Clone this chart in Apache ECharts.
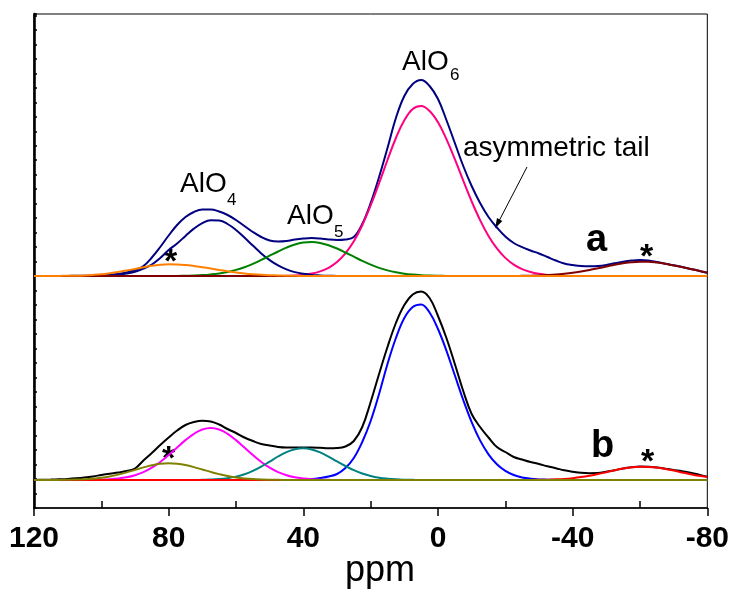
<!DOCTYPE html>
<html>
<head>
<meta charset="utf-8">
<script src="https://cdn.jsdelivr.net/npm/echarts@6/dist/echarts.min.js"></script>
<style>
	html, body { margin: 0; padding: 0; background: #fff; }
	#chart { width: 732px; height: 590px; }
</style>
</head>
<body>
<div id="chart"></div>
<script>
	// chemical shift grid (ppm), 2.5 ppm steps from 120 down to -80
	var ppm = [120,117.5,115,112.5,110,107.5,105,102.5,100,97.5,
		95,92.5,90,87.5,85,82.5,80,77.5,75,72.5,
		70,67.5,65,62.5,60,57.5,55,52.5,50,47.5,
		45,42.5,40,37.5,35,32.5,30,27.5,25,22.5,
		20,17.5,15,12.5,10,7.5,5,2.5,0,-2.5,
		-5,-7.5,-10,-12.5,-15,-17.5,-20,-22.5,-25,-27.5,
		-30,-32.5,-35,-37.5,-40,-42.5,-45,-47.5,-50,-52.5,
		-55,-57.5,-60,-62.5,-65,-67.5,-70,-72.5,-75,-77.5,
		-80];

	// spectrum a
	var aSum = [0,0,0,0,0.1,0.2,0.3,0.4,0.7,1.2,
		2,3.5,6,10,18.5,29,40.5,51,59,64,
		66.5,66.5,64.5,61,56,50,44,39,35.5,34.5,
		35,36.5,37.5,38,37.5,36.5,36,36.5,39,52,
		73,99,128,158,180,192,196,190,177,156,
		133,110,90,73,59,48.5,39.5,33,28.8,25.5,
		22.5,19,15.5,12.5,11,10,9.8,10,11,12.8,
		14.3,15.4,16,15.6,14,12.3,10.8,9,7.1,5.2,
		3.3];
	var aAlO4 = [0,0,0,0,0,0,0,0,0.3,0.65,
		1.3,2.4,4.3,7.3,11.5,18,26,32.5,40.1,47.4,
		52.9,55.7,55.4,52,46,38.4,30.4,22.6,15.9,10.6,
		6.6,3.9,2.2,1.1,0.6,0.3,0.1,0,0,0,
		0,0,0,0,0,0,0,0,0,0,
		0,0,0,0,0,0,0,0,0,0,
		0,0,0,0,0,0,0,0,0,0,
		0,0,0,0,0,0,0,0,0,0,
		0];
	var aAlO5 = [0,0,0,0,0,0,0,0,0,0,
		0,0,0,0,0,0,0,0,0.28,0.5,
		0.9,1.6,2.6,4.1,6.1,8.8,12.1,16.1,20.3,24.5,
		28.4,31.5,33.4,34,33.1,30.8,27.5,23.5,19.3,15.1,
		11.3,8.1,5.6,3.7,2.3,1.4,0.8,0.4,0.2,0.1,
		0,0,0,0,0,0,0,0,0,0,
		0,0,0,0,0,0,0,0,0,0,
		0,0,0,0,0,0,0,0,0,0,
		0];
	var aAlO6 = [0,0,0,0,0,0,0,0,0,0,
		0,0,0,0,0,0,0,0,0,0,
		0,0,0,0,0,0,0,0,0,0,
		0.2,0.5,1.2,2.4,4.6,8.2,14,22.6,34.7,50.8,
		70.5,92.8,116,138,155.7,167,170,165,153.7,136.9,
		116.8,95.4,74.6,55.9,40.1,27.6,18.1,11.4,6.9,4,
		2.2,1.1,0.5,0.2,0,0,0,0,0,0,
		0,0,0,0,0,0,0,0,0,0,
		0];
	var aSb80 = [0,0,0,0.1,0.17,0.33,0.6,1.06,1.7,2.7,
		3.9,5.4,7.1,8.75,10.2,11.2,11.7,11.6,11,10,
		8.8,7.5,6.1,4.8,3.6,2.6,1.8,1.2,0.8,0.5,
		0.3,0.15,0.1,0,0,0,0,0,0,0,
		0,0,0,0,0,0,0,0,0,0,
		0,0,0,0,0,0,0,0,0,0,
		0,0,0,0,0,0,0,0,0,0,
		0,0,0,0,0,0,0,0,0,0,
		0];
	var aSbM60 = [0,0,0,0,0,0,0,0,0,0,
		0,0,0,0,0,0,0,0,0,0,
		0,0,0,0,0,0,0,0,0,0,
		0,0,0,0,0,0,0,0,0,0,
		0,0,0,0,0,0,0,0,0,0,
		0,0,0,0,0,0,0,0,0.17,0.3,
		0.53,0.89,1.4,2.2,3.2,4.5,6,7.7,9.5,11.3,
		12.7,13.8,14.3,14.2,13.4,12.2,10.6,8.9,7.1,5.2,
		3.3];

	// spectrum b
	var bSum = [0,0.2,0.4,0.7,1.1,1.7,2.5,3.6,5,6.3,
		7.5,9,11.5,19.5,27,35,42.5,49.5,55,58,
		59.3,58.5,55.5,51,47,42.5,39,36,34.5,33,
		32.5,32.5,32.5,32.5,32.2,31.8,32,33.5,39,53,
		78,106,133,157,175,185.5,188.5,182,164,142,
		116,89,66,53,42.5,33,28,23,20.5,18,
		16,13.7,11.8,9.7,8.3,7.2,6.8,6.9,8.3,9.8,
		11.6,12.8,13.5,13.3,12.5,11.3,10,8.8,7.3,5.4,
		3.3];
	var bAlO4 = [0,0,0,0,0,0,0,0,0.36,0.74,
		1.46,2.7,4.8,7.9,12.3,18,24.9,32.5,39.9,46.2,
		50.5,52,50.5,46.2,39.9,32.5,24.9,18,12.3,7.9,
		4.8,2.7,1.46,0.74,0.36,0.17,0,0,0,0,
		0,0,0,0,0,0,0,0,0,0,
		0,0,0,0,0,0,0,0,0,0,
		0,0,0,0,0,0,0,0,0,0,
		0,0,0,0,0,0,0,0,0,0,
		0];
	var bAlO5 = [0,0,0,0,0,0,0,0,0,0,
		0,0,0,0,0,0,0,0,0,0,
		0.19,0.44,0.93,1.84,3.4,5.7,9.1,13.4,18.4,23.5,
		27.9,30.8,31.7,30.5,27.6,23.4,18.6,14,9.8,6.5,
		4,2.3,1.3,0.67,0.33,0.15,0,0,0,0,
		0,0,0,0,0,0,0,0,0,0,
		0,0,0,0,0,0,0,0,0,0,
		0,0,0,0,0,0,0,0,0,0,
		0];
	var bAlO6 = [0,0,0,0,0,0,0,0,0,0,
		0,0,0,0,0,0,0,0,0,0,
		0,0,0,0,0,0,0,0,0,0,
		0,0.1,0.4,0.9,2,3.5,6,12,22,38,
		59,86,116,142,162,173,175.5,167.5,151,129.4,
		104.7,80,57.9,39.6,25.7,15.7,9.1,5,2.6,1.3,
		0.6,0.3,0,0,0,0,0,0,0,0,
		0,0,0,0,0,0,0,0,0,0,
		0];
	var bSb80 = [0,0,0,0.1,0.19,0.38,0.73,1.33,2.26,3.6,
		5.4,7.6,10.1,12.6,14.7,16.2,16.7,16.2,14.9,12.9,
		10.5,8.1,5.9,4,2.6,1.6,0.93,0.5,0.26,0.13,
		0,0,0,0,0,0,0,0,0,0,
		0,0,0,0,0,0,0,0,0,0,
		0,0,0,0,0,0,0,0,0,0,
		0,0,0,0,0,0,0,0,0,0,
		0,0,0,0,0,0,0,0,0,0,
		0];
	var bSbM60 = [0,0,0,0,0,0,0,0,0,0,
		0,0,0,0,0,0,0,0,0,0,
		0,0,0,0,0,0,0,0,0,0,
		0,0,0,0,0,0,0,0,0,0,
		0,0,0,0,0,0,0,0,0,0,
		0,0,0,0,0,0,0,0,0,0.09,
		0.18,0.35,0.64,1.1,1.85,2.9,4.3,6,7.8,9.7,
		11.4,12.7,13.3,13.1,12.4,11,9.4,7.6,5.8,4.2,
		2.9];

	var xTicks = [120,80,40,0,-40,-80];

	// vertical stacking of the two spectra
	var offsetA = 232, offsetB = 28;

	var chart = echarts.init(document.getElementById('chart'), null, {renderer: 'canvas'});
	var font = '"Liberation Sans", Arial, Helvetica, sans-serif';

	var makeSeries = function (values, offset, color) {
		return {
			type: 'line',
			smooth: 0.4,
			showSymbol: false,
			silent: true,
			lineStyle: {color: color, width: 2},
			data: ppm.map(function (p, i) { return [p, offset + values[i]]; })
		};
	};

	var series = [
		makeSeries(aSum, offsetA, '#000080'),
		makeSeries(aAlO6, offsetA, '#FF0080'),
		makeSeries(aAlO4, offsetA, '#000080'),
		makeSeries(aAlO5, offsetA, '#008000'),
		makeSeries(aSbM60, offsetA, '#800000'),
		makeSeries(aSb80, offsetA, '#FF8000'),
		makeSeries(bSum, offsetB, '#000000'),
		makeSeries(bAlO6, offsetB, '#0000FF'),
		makeSeries(bAlO4, offsetB, '#FF00FF'),
		makeSeries(bAlO5, offsetB, '#008080'),
		makeSeries(bSbM60, offsetB, '#FF0000'),
		makeSeries(bSb80, offsetB, '#808000')
	];

	var txt = function (x, y, text, size, bold) {
		return {
			type: 'text', x: x, y: y, silent: true,
			style: {
				text: text, fill: '#000',
				font: (bold ? 'bold ' : '') + size + 'px ' + font,
				textAlign: 'left', textVerticalAlign: 'middle'
			}
		};
	};

	var option = {
		backgroundColor: '#fff',
		animation: false,
		grid: {
			left: 34, right: 24, top: 14, bottom: 82,
			show: true, borderColor: '#000', borderWidth: 1
		},
		xAxis: [
			{
				type: 'value', min: -80, max: 120, interval: 40, inverse: true,
				axisLine: {onZero: false, lineStyle: {color: '#000', width: 1.7}},
				axisTick: {length: 8, lineStyle: {color: '#000', width: 1.5}},
				axisLabel: {
					color: '#000', fontSize: 30, fontWeight: 'bold', fontFamily: font, margin: 16,
					formatter: function (v) { return xTicks.indexOf(v) >= 0 ? String(v) : ''; }
				},
				splitLine: {show: false}
			},
			{
				type: 'value', min: -80, max: 120, interval: 40, inverse: true, position: 'bottom',
				axisLine: {show: false, onZero: false},
				axisTick: {show: false, inside: true},
				minorTick: {show: true, splitNumber: 2, length: 7, lineStyle: {color: '#000', width: 1.5}},
				axisLabel: {show: false},
				splitLine: {show: false}
			}
		],
		yAxis: {
			type: 'value', min: 0, max: 494, interval: 14.49,
			axisLine: {show: true, onZero: false, lineStyle: {color: '#000', width: 2.6}},
			axisTick: {show: true, inside: true, length: 3, lineStyle: {color: '#000', width: 1.5}},
			axisLabel: {show: false},
			splitLine: {show: false}
		},
		series: series,
		graphic: [
			txt(180, 184.6, 'AlO', 28),
			txt(227, 200, '4', 17),
			txt(287, 216.6, 'AlO', 28),
			txt(334, 232, '5', 17),
			txt(402, 62.3, 'AlO', 28),
			txt(450, 75.6, '6', 17),
			txt(463, 148.6, 'asymmetric tail', 28),
			txt(586, 240.6, 'a', 38, true),
			txt(591, 447, 'b', 38, true),
			txt(164, 263, '*', 34, true),
			txt(640, 258, '*', 34, true),
			txt(162, 460, '*', 34, true),
			txt(641, 463, '*', 34, true),
			txt(345, 571, 'ppm', 36),
			{
				type: 'line', silent: true,
				shape: {x1: 527, y1: 167, x2: 499, y2: 221},
				style: {stroke: '#000', lineWidth: 1}
			},
			{
				type: 'polygon', silent: true,
				shape: {points: [[495, 228.5], [502.3, 220.9], [497, 218.1]]},
				style: {fill: '#000'}
			}
		]
	};
	chart.setOption(option);
</script>
</body>
</html>
